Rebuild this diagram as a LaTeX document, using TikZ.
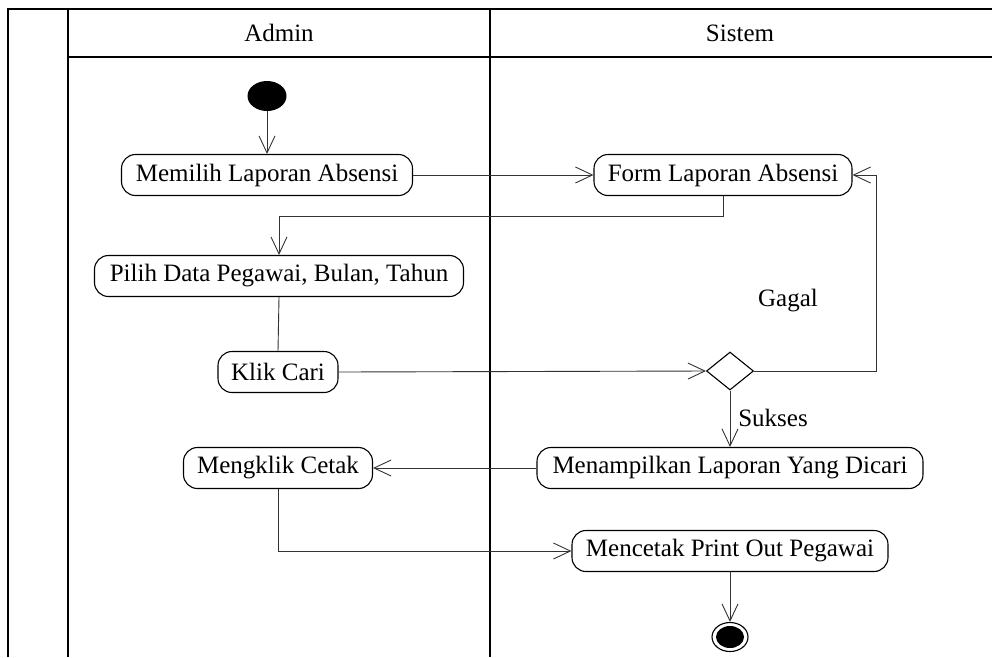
\documentclass[tikz,border=0pt]{standalone}
\usepackage{fontspec}
\setmainfont{Liberation Serif}
\usetikzlibrary{arrows.meta,shapes.geometric,calc}
\begin{document}
\begin{tikzpicture}[x=1pt,y=-1pt,
  frame/.style={line width=1.6pt,black},
  act/.style={draw,line width=1.1pt,rounded corners=14pt,inner sep=0pt,minimum height=41pt,font=\fontsize{25}{29}\selectfont},
  arr/.style={line width=0.9pt,draw=black!80,-{Straight Barb[length=17pt,width=16pt,line width=0.9pt]}},
  lab/.style={font=\fontsize{25}{29}\selectfont}]
\useasboundingbox (0,0) rectangle (992,657);
% frame
\draw[frame] (8,657) -- (8,9) -- (992,9);
\draw[frame] (68,9) -- (68,657);
\draw[frame] (490,9) -- (490,657);
\draw[line width=1.2pt] (68,57) -- (992,57);
\node[lab] (hadmin) at (279,33) {Admin};
\node[lab] (hsis) at (740,33) {Sistem};
% nodes
\node[fill=black,ellipse,inner sep=0pt,minimum width=39pt,minimum height=30pt] (start) at (267,96) {};
\node[act,minimum width=291pt] (mem) at (267,175) {Memilih Laporan Absensi};
\node[act,minimum width=258pt] (form) at (723,175) {Form Laporan Absensi};
\node[act,minimum width=369pt] (pilih) at (279,276) {Pilih Data Pegawai, Bulan, Tahun};
\node[act,minimum width=120pt] (klik) at (278,372) {Klik Cari};
\node[draw,diamond,line width=1.1pt,inner sep=0pt,minimum width=47pt,minimum height=38pt,aspect=1.24] (dec) at (730,371) {};
\coordinate (g) at (876,371);
\node[lab] (gagal) at (788,301) {Gagal};
\node[lab] (sukses) at (773,418) {Sukses};
\node[act,minimum width=386pt] (tampil) at (730,468) {Menampilkan Laporan Yang Dicari};
\node[act,minimum width=189pt] (cetak) at (278,468) {Mengklik Cetak};
\node[act,minimum width=316pt] (print) at (730,551) {Mencetak Print Out Pegawai};
\node[draw,ellipse,line width=1.1pt,inner sep=0pt,minimum width=36pt,minimum height=29pt] (end) at (730,637) {};
\node[fill=black,ellipse,inner sep=0pt,minimum width=28pt,minimum height=22pt] (endin) at (730,637) {};
% connectors
\draw[arr] (start) -- (mem.north);
\draw[arr] (mem.east) -- (form.west);
\draw[arr] (form.south) -- ($(form.south)+(0,20)$) -| (pilih.north);
\draw[line width=0.9pt,draw=black!80] (pilih.south) -- (klik.north);
\draw[arr] (klik.east) -- (dec.west);
\draw[arr] (dec.east) -- (g) |- (form.east);
\draw[arr] (dec.south) -- (tampil.north);
\draw[arr] (tampil.west) -- (cetak.east);
\draw[arr] (cetak.south) |- (print.west);
\draw[arr] (print.south) -- (end.north);
\end{tikzpicture}
\end{document}
